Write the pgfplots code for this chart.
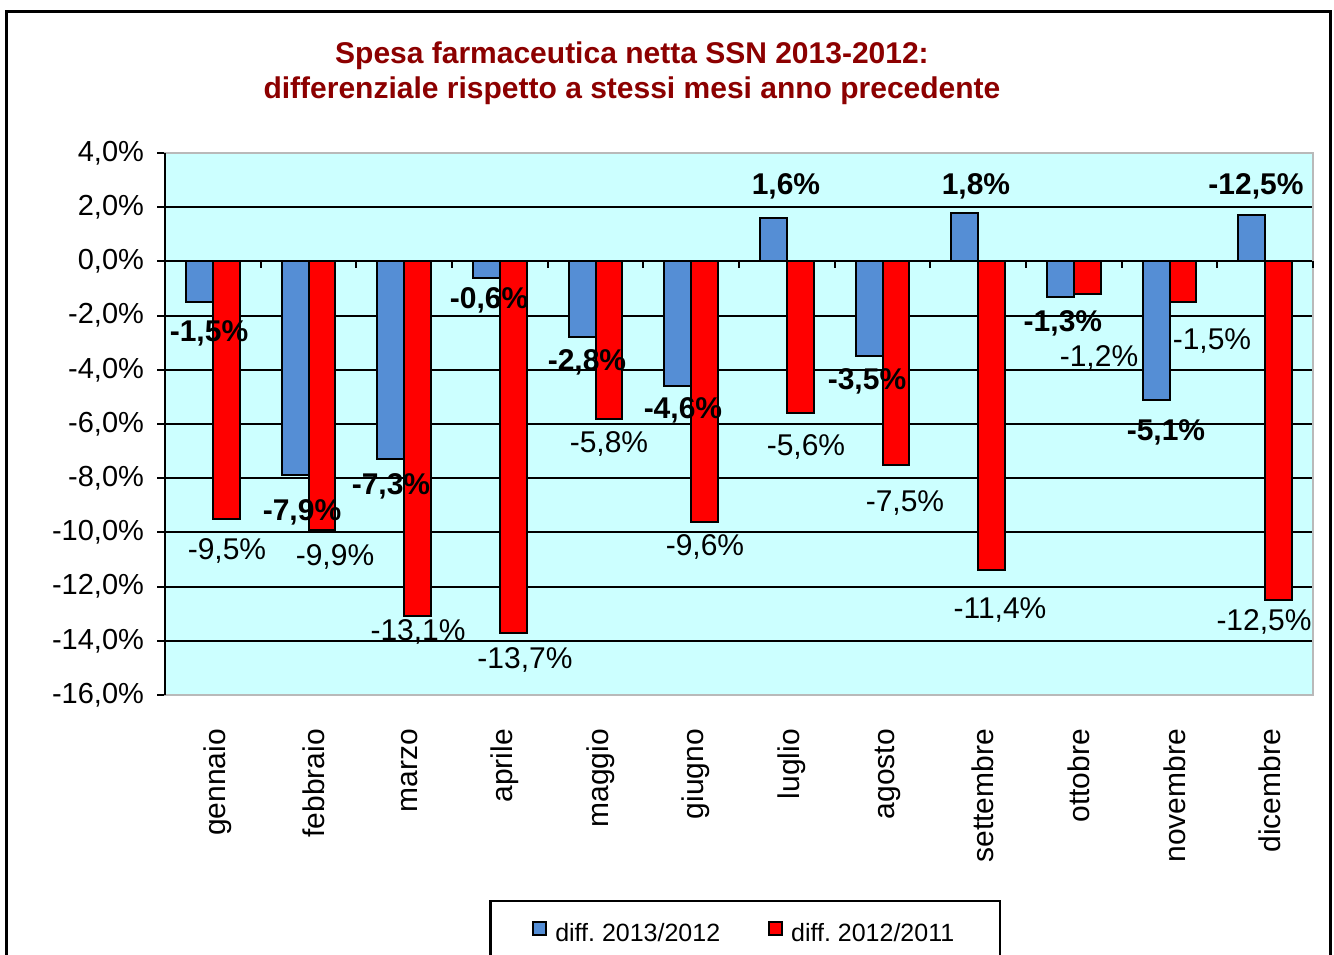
\documentclass[border=0pt]{standalone}
\usepackage{fontspec}
\setmainfont{Liberation Sans}
\usepackage{pgfplots}
\pgfplotsset{compat=1.18}
\definecolor{barblue}{RGB}{85,142,213}
\definecolor{barred}{RGB}{255,0,0}
\definecolor{bgcyan}{RGB}{204,255,255}
\definecolor{titlered}{RGB}{140,0,0}
\frenchspacing
\begin{document}
\begin{tikzpicture}
\begin{axis}[
  at={(82.5pt,129.5pt)}, anchor=south west,
  scale only axis, width=574pt, height=271pt,
  xmin=-0.5, xmax=11.5, ymin=-16, ymax=4,
  ybar=0pt, bar width=0.28,
  clip=false,
  axis background/.style={fill=bgcyan},
  axis line style={draw=none},
  xtick={0,...,11},
  xticklabels={gennaio,febbraio,marzo,aprile,maggio,giugno,luglio,agosto,settembre,ottobre,novembre,dicembre},
  xtick style={draw=none},
  x tick label style={rotate=90, anchor=east, font=\fontsize{15}{18}\selectfont, xshift=-9.5pt, yshift=-2.5pt},
  ytick={-16,-14,...,4},
  yticklabels={{-16,0\%},{-14,0\%},{-12,0\%},{-10,0\%},{-8,0\%},{-6,0\%},{-4,0\%},{-2,0\%},{0,0\%},{2,0\%},{4,0\%}},
  ytick pos=left,
  tick align=outside,
  major tick length=4pt,
  y tick style={black, line width=1pt},
  y tick label style={font=\fontsize{14.5}{17}\selectfont, xshift=-3pt},
  ymajorgrids,
  major grid style={black, line width=1pt},
  legend columns=2,
  legend style={at={(0.5055,-0.3782)}, anchor=north, draw=black, line width=1.2pt, fill=white,
    font=\fontsize{12.5}{15}\selectfont, inner xsep=21pt, inner ysep=9pt,
    /tikz/every even column/.append style={column sep=22pt}},
]
\addplot[fill=barblue, draw=black, line width=1pt,
  legend image code/.code={\draw[fill=barblue, draw=black, line width=0.9pt] (0pt,-0.5pt) rectangle (6.5pt,6pt); \path (8.5pt,0pt);}]
  coordinates {(0,-1.5) (1,-7.9) (2,-7.3) (3,-0.6) (4,-2.8) (5,-4.6) (6,1.6) (7,-3.5) (8,1.8) (9,-1.3) (10,-5.1) (11,1.7)};
\addplot[fill=barred, draw=black, line width=1pt,
  legend image code/.code={\draw[fill=barred, draw=black, line width=0.9pt] (0pt,-0.5pt) rectangle (6.5pt,6pt); \path (8.5pt,0pt);}]
  coordinates {(0,-9.5) (1,-9.9) (2,-13.1) (3,-13.7) (4,-5.8) (5,-9.6) (6,-5.6) (7,-7.5) (8,-11.4) (9,-1.2) (10,-1.5) (11,-12.5)};
\legend{diff. 2013/2012, diff. 2012/2011}
% gray frame and black y axis
\draw[gray!55, line width=1pt] (rel axis cs:0,0) rectangle (rel axis cs:1,1);
\draw[black, line width=1pt] (rel axis cs:0,0) -- (rel axis cs:0,1);
\pgfplotsinvokeforeach{0.5,1.5,2.5,3.5,4.5,5.5,6.5,7.5,8.5,9.5,10.5,11.5}{
  \draw[black, line width=1pt] (axis cs:#1,0) -- ([yshift=-3.5pt]axis cs:#1,0);
}
% blue labels (bold)
\begin{scope}[every node/.style={font=\bfseries\fontsize{15}{18}\selectfont, inner sep=0pt}]
\node at (axis cs:-0.04,-2.64) {-1,5\%};
\node at (axis cs:0.932,-9.25) {-7,9\%};
\node at (axis cs:1.862,-8.29) {-7,3\%};
\node at (axis cs:2.887,-1.42) {-0,6\%};
\node at (axis cs:3.911,-3.71) {-2,8\%};
\node at (axis cs:4.914,-5.48) {-4,6\%};
\node at (axis cs:5.991,2.78) {1,6\%};
\node at (axis cs:6.838,-4.41) {-3,5\%};
\node at (axis cs:7.977,2.78) {1,8\%};
\node at (axis cs:8.886,-2.27) {-1,3\%};
\node at (axis cs:9.963,-6.30) {-5,1\%};
\node at (axis cs:10.904,2.78) {-12,5\%};
\end{scope}
% red labels (regular)
\begin{scope}[every node/.style={font=\fontsize{15}{18}\selectfont, inner sep=0pt}]
\node at (axis cs:0.148,-10.69) {-9,5\%};
\node at (axis cs:1.277,-10.91) {-9,9\%};
\node at (axis cs:2.145,-13.68) {-13,1\%};
\node at (axis cs:3.263,-14.71) {-13,7\%};
\node at (axis cs:4.141,-6.74) {-5,8\%};
\node at (axis cs:5.144,-10.54) {-9,6\%};
\node at (axis cs:6.200,-6.85) {-5,6\%};
\node at (axis cs:7.235,-8.92) {-7,5\%};
\node at (axis cs:8.228,-12.86) {-11,4\%};
\node at (axis cs:9.263,-3.56) {-1,2\%};
\node at (axis cs:10.444,-2.94) {-1,5\%};
\node at (axis cs:10.988,-13.31) {-12,5\%};
\end{scope}
\end{axis}
\node[font=\bfseries\fontsize{15}{17.5}\selectfont, text=titlered, align=center] at (316pt,440.5pt)
  {Spesa farmaceutica netta SSN 2013-2012:\\differenziale rispetto a stessi mesi anno precedente};
\draw[line width=1.5pt] (3pt,-10pt) -- (3pt,471pt) -- (665pt,471pt) -- (665pt,-10pt);
\pgfresetboundingbox
\useasboundingbox (0,0) rectangle (667pt,477pt);
\end{tikzpicture}
\end{document}
